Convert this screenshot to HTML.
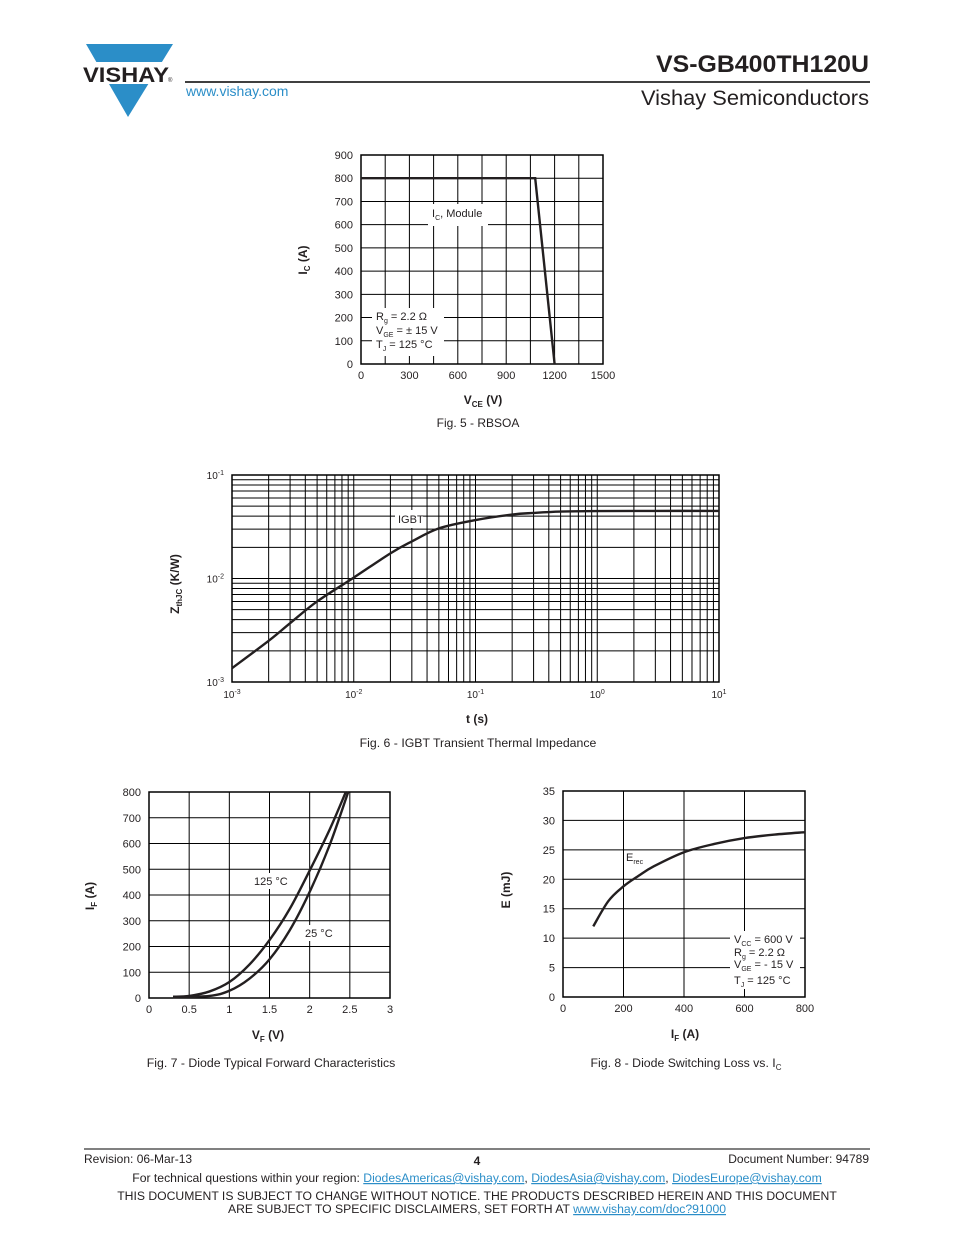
<!DOCTYPE html>
<html><head><meta charset="utf-8"><style>
body{margin:0;background:#fff;font-family:"Liberation Sans",Arial,sans-serif}
svg{display:block}
text{font-family:"Liberation Sans",Arial,sans-serif;fill:#231f20}
</style></head><body>
<svg id="pg" width="954" height="1235" viewBox="0 0 954 1235">
<g>
 <polygon points="86,44 173,44 128,117" fill="#2b8ec8"/>
 <rect x="80" y="62" width="100" height="22" fill="#fff"/>
 <text x="83" y="82" font-size="21" font-weight="bold" textLength="86" lengthAdjust="spacingAndGlyphs">VISHAY</text>
 <text x="168" y="82" font-size="6">®</text>
 <line x1="185" y1="82" x2="870" y2="82" stroke="#000" stroke-width="1.5"/>
 <text x="186" y="96" font-size="14" style="fill:#2b8ec8">www.vishay.com</text>
 <text x="869" y="72" font-size="24" font-weight="bold" text-anchor="end" textLength="213" lengthAdjust="spacingAndGlyphs">VS-GB400TH120U</text>
 <text x="869" y="105" font-size="21" text-anchor="end" textLength="228" lengthAdjust="spacingAndGlyphs">Vishay Semiconductors</text>
</g>
<g id="f5"></g>
<g id="f6"></g>
<g id="f7"></g>
<g id="f8"></g>
<g font-size="12">
 <line x1="84" y1="1149" x2="870" y2="1149" stroke="#000" stroke-width="1"/>
 <text x="84" y="1163" font-size="12">Revision: 06-Mar-13</text>
 <text x="477" y="1165" font-size="12" font-weight="bold" text-anchor="middle">4</text>
 <text x="869" y="1163" font-size="12" text-anchor="end">Document Number: 94789</text>
 <text x="477" y="1182" font-size="12.2" text-anchor="middle">For technical questions within your region: <tspan style="fill:#2b8ec8;text-decoration:underline">DiodesAmericas@vishay.com</tspan>, <tspan style="fill:#2b8ec8;text-decoration:underline">DiodesAsia@vishay.com</tspan>, <tspan style="fill:#2b8ec8;text-decoration:underline">DiodesEurope@vishay.com</tspan></text>
 <text x="477" y="1200" font-size="12.2" text-anchor="middle">THIS DOCUMENT IS SUBJECT TO CHANGE WITHOUT NOTICE. THE PRODUCTS DESCRIBED HEREIN AND THIS DOCUMENT</text>
 <text x="477" y="1213" font-size="12.2" text-anchor="middle">ARE SUBJECT TO SPECIFIC DISCLAIMERS, SET FORTH AT <tspan style="fill:#2b8ec8;text-decoration:underline">www.vishay.com/doc?91000</tspan></text>
</g>
</svg>
<script>
// ---- data ----
const f5X=[0,1080,1200];
const f5Y=[800,800,0];
const f5XTicks=[0,300,600,900,1200,1500];
const f5YTicks=[0,100,200,300,400,500,600,700,800,900];
const f6T=[0.001,0.002,0.003,0.005,0.01,0.02,0.03,0.05,0.1,0.2,0.3,0.5,1,3,10];
const f6Z=[0.00136,0.0025,0.0037,0.006,0.0102,0.0175,0.0228,0.0305,0.0367,0.0415,0.043,0.0443,0.0448,0.045,0.045];
const f7V125=[0.3,0.5,0.75,1,1.25,1.5,1.75,2,2.25,2.45];
const f7I125=[5,8,25,62,130,225,345,495,655,800];
const f7V25=[0.3,0.75,1,1.25,1.5,1.75,2,2.25,2.48];
const f7I25=[3,8,28,75,150,262,412,595,800];
const f8I=[100,150,200,250,300,400,500,600,700,800];
const f8E=[12,16.3,18.8,20.6,22.2,24.6,26,27,27.6,28];
const f8XTicks=[0,200,400,600,800];
const f8YTicks=[0,5,10,15,20,25,30,35];
const f7XTicks=[0,0.5,1,1.5,2,2.5,3];
const f7YTicks=[0,100,200,300,400,500,600,700,800];
// ---- helpers ----
const NS="http://www.w3.org/2000/svg";
function mk(p,tag,at,txt){const e=document.createElementNS(NS,tag);for(const k in at)e.setAttribute(k,at[k]);if(txt!==undefined)e.textContent=txt;p.appendChild(e);return e;}
function lin(d0,d1,r0,r1){return v=>r0+(v-d0)/(d1-d0)*(r1-r0);}
function pathFrom(xs,ys,sx,sy){return xs.map((x,i)=>(i?'L':'M')+sx(x).toFixed(1)+','+sy(ys[i]).toFixed(1)).join(' ');}
function smooth(xs,ys,sx,sy){const P=xs.map((x,i)=>[sx(x),sy(ys[i])]);let d='M'+P[0][0]+','+P[0][1];for(let i=0;i<P.length-1;i++){const p0=P[i-1]||P[i],p1=P[i],p2=P[i+1],p3=P[i+2]||p2;d+=' C'+(p1[0]+(p2[0]-p0[0])/6)+','+(p1[1]+(p2[1]-p0[1])/6)+' '+(p2[0]-(p3[0]-p1[0])/6)+','+(p2[1]-(p3[1]-p1[1])/6)+' '+p2[0]+','+p2[1];}return d;}
function linFrame(g,L,R,T,B,xt,yt,sx,sy,fs){
 xt.forEach(v=>{const l=mk(g,'line',{x1:sx(v),x2:sx(v),y1:T,y2:B,stroke:'#000','stroke-width':1});
  const t=mk(g,'text',{x:sx(v),y:B+15,'font-size':fs,'text-anchor':'middle'},v);});
 yt.forEach(v=>{const l=mk(g,'line',{x1:L,x2:R,y1:sy(v),y2:sy(v),stroke:'#000','stroke-width':1});
  const t=mk(g,'text',{x:L-8,y:sy(v)+4,'font-size':fs,'text-anchor':'end'},v);});
 const r=mk(g,'rect',{x:L,y:T,width:R-L,height:B-T,fill:'none',stroke:'#000','stroke-width':1.5});
}
function curve(g,d,name){const p=mk(g,'path',{d:d,fill:'none',stroke:'#231f20','stroke-width':2.4});}
// ---- Fig 5 ----
(function(){const g=document.getElementById('f5');const L=361,R=603,T=155,B=364;
 const sx=lin(0,1500,L,R),sy=lin(0,900,B,T);
 [0,150,300,450,600,750,900,1050,1200,1350,1500].forEach(v=>{mk(g,'line',{x1:sx(v),x2:sx(v),y1:T,y2:B,stroke:'#000','stroke-width':1});});
 f5XTicks.forEach(v=>{const t=mk(g,'text',{x:sx(v),y:B+15,'font-size':11,'text-anchor':'middle'},v);});
 f5YTicks.forEach(v=>{mk(g,'line',{x1:L,x2:R,y1:sy(v),y2:sy(v),stroke:'#000','stroke-width':1});const t=mk(g,'text',{x:L-8,y:sy(v)+4,'font-size':11,'text-anchor':'end'},v);});
 mk(g,'rect',{x:L,y:T,width:R-L,height:B-T,fill:'none',stroke:'#000','stroke-width':1.5});
 mk(g,'rect',{x:428,y:204,width:60,height:22,fill:'#fff'});
 mk(g,'rect',{x:372,y:308,width:72,height:48,fill:'#fff'});
 curve(g,pathFrom(f5X,f5Y,sx,sy),'rbsoa-line');
 const a=mk(g,'text',{x:432,y:217,'font-size':11});a.innerHTML='I<tspan font-size="7" dy="3">C</tspan><tspan dy="-3">, Module</tspan>';
 const c=mk(g,'text',{x:376,y:320,'font-size':11});c.innerHTML='R<tspan font-size="7" dy="3">g</tspan><tspan dy="-3"> = 2.2 Ω</tspan>';
 const d=mk(g,'text',{x:376,y:334,'font-size':11});d.innerHTML='V<tspan font-size="7" dy="3">GE</tspan><tspan dy="-3"> = ± 15 V</tspan>';
 const e=mk(g,'text',{x:376,y:348,'font-size':11});e.innerHTML='T<tspan font-size="7" dy="3">J</tspan><tspan dy="-3"> = 125 °C</tspan>';
 const xl=mk(g,'text',{x:483,y:404,'font-size':12,'font-weight':'bold','text-anchor':'middle'});xl.innerHTML='V<tspan font-size="8" dy="3">CE</tspan><tspan dy="-3"> (V)</tspan>';
 const yl=mk(g,'text',{x:0,y:0,'font-size':12,'font-weight':'bold','text-anchor':'middle',transform:'translate(307,260) rotate(-90)'});yl.innerHTML='I<tspan font-size="8" dy="3">C</tspan><tspan dy="-3"> (A)</tspan>';
 const cap=mk(g,'text',{x:478,y:427,'font-size':12,'text-anchor':'middle'},'Fig. 5 - RBSOA');
})();
// ---- Fig 6 ----
(function(){const g=document.getElementById('f6');const L=232,R=719,T=475,B=682;
 const sx=v=>L+(Math.log10(v)+3)/4*(R-L),sy=v=>B-(Math.log10(v)+3)/2*(B-T);
 for(let d=-3;d<1;d++)for(let m=1;m<10;m++){const v=m*Math.pow(10,d);mk(g,'line',{x1:sx(v),x2:sx(v),y1:T,y2:B,stroke:'#000','stroke-width':1});}
 for(let d=-3;d<-1;d++)for(let m=1;m<10;m++){const v=m*Math.pow(10,d);mk(g,'line',{x1:L,x2:R,y1:sy(v),y2:sy(v),stroke:'#000','stroke-width':1});}
 mk(g,'rect',{x:L,y:T,width:R-L,height:B-T,fill:'none',stroke:'#000','stroke-width':1.5});
 [-3,-2,-1,0,1].forEach(e=>{const t=mk(g,'text',{x:sx(Math.pow(10,e)),y:B+16,'font-size':10,'text-anchor':'middle'});t.innerHTML='10<tspan font-size="7" dy="-4">'+e+'</tspan>';});
 [-3,-2,-1].forEach(e=>{const t=mk(g,'text',{x:L-8,y:sy(Math.pow(10,e))+4,'font-size':10,'text-anchor':'end'});t.innerHTML='10<tspan font-size="7" dy="-4">'+e+'</tspan>';});
 mk(g,'rect',{x:395,y:510,width:28,height:18,fill:'#fff'});
 const lb=mk(g,'text',{x:398,y:523,'font-size':11},'IGBT');
 curve(g,smooth(f6T,f6Z,sx,sy),'igbt-curve');
 const xl=mk(g,'text',{x:477,y:723,'font-size':12,'font-weight':'bold','text-anchor':'middle'},'t (s)');
 const yl=mk(g,'text',{x:0,y:0,'font-size':12,'font-weight':'bold','text-anchor':'middle',transform:'translate(179,584) rotate(-90)'});yl.innerHTML='Z<tspan font-size="8" dy="3">thJC</tspan><tspan dy="-3"> (K/W)</tspan>';
 const cap=mk(g,'text',{x:478,y:747,'font-size':12.3,'text-anchor':'middle'},'Fig. 6 - IGBT Transient Thermal Impedance');
})();
// ---- Fig 7 ----
(function(){const g=document.getElementById('f7');const L=149,R=390,T=792,B=998;
 const sx=lin(0,3,L,R),sy=lin(0,800,B,T);
 linFrame(g,L,R,T,B,f7XTicks,f7YTicks,sx,sy,11);
 mk(g,'rect',{x:252,y:873,width:40,height:16,fill:'#fff'});
 mk(g,'rect',{x:302,y:925,width:36,height:16,fill:'#fff'});
 curve(g,smooth(f7V125,f7I125,sx,sy),'curve-125c');
 curve(g,smooth(f7V25,f7I25,sx,sy),'curve-25c');
 const a=mk(g,'text',{x:254,y:885,'font-size':11},'125 °C');
 const b=mk(g,'text',{x:305,y:937,'font-size':11},'25 °C');
 const xl=mk(g,'text',{x:268,y:1039,'font-size':12,'font-weight':'bold','text-anchor':'middle'});xl.innerHTML='V<tspan font-size="8" dy="3">F</tspan><tspan dy="-3"> (V)</tspan>';
 const yl=mk(g,'text',{x:0,y:0,'font-size':12,'font-weight':'bold','text-anchor':'middle',transform:'translate(94,896) rotate(-90)'});yl.innerHTML='I<tspan font-size="8" dy="3">F</tspan><tspan dy="-3"> (A)</tspan>';
 const cap=mk(g,'text',{x:271,y:1067,'font-size':12.3,'text-anchor':'middle'},'Fig. 7 - Diode Typical Forward Characteristics');
})();
// ---- Fig 8 ----
(function(){const g=document.getElementById('f8');const L=563,R=805,T=791,B=997;
 const sx=lin(0,800,L,R),sy=lin(0,35,B,T);
 linFrame(g,L,R,T,B,f8XTicks,f8YTicks,sx,sy,11);
 mk(g,'rect',{x:730,y:931,width:70,height:58,fill:'#fff'});
 curve(g,smooth(f8I,f8E,sx,sy),'erec-curve');
 const a=mk(g,'text',{x:626,y:861,'font-size':11});a.innerHTML='E<tspan font-size="7" dy="3">rec</tspan>';
 [['V','CC',' = 600 V',943],['R','g',' = 2.2 Ω',956],['V','GE',' = - 15 V',968],['T','J',' = 125 °C',984]].forEach(r=>{const t=mk(g,'text',{x:734,y:r[3],'font-size':11});t.innerHTML=r[0]+'<tspan font-size="7" dy="3">'+r[1]+'</tspan><tspan dy="-3">'+r[2]+'</tspan>';});
 const xl=mk(g,'text',{x:685,y:1038,'font-size':12,'font-weight':'bold','text-anchor':'middle'});xl.innerHTML='I<tspan font-size="8" dy="3">F</tspan><tspan dy="-3"> (A)</tspan>';
 const yl=mk(g,'text',{x:0,y:0,'font-size':12,'font-weight':'bold','text-anchor':'middle',transform:'translate(510,890) rotate(-90)'},'E (mJ)');
 const cap=mk(g,'text',{x:686,y:1067,'font-size':12.3,'text-anchor':'middle'});cap.innerHTML='Fig. 8 - Diode Switching Loss vs. I<tspan font-size="8" dy="3">C</tspan>';
})();
</script>
</body></html>
